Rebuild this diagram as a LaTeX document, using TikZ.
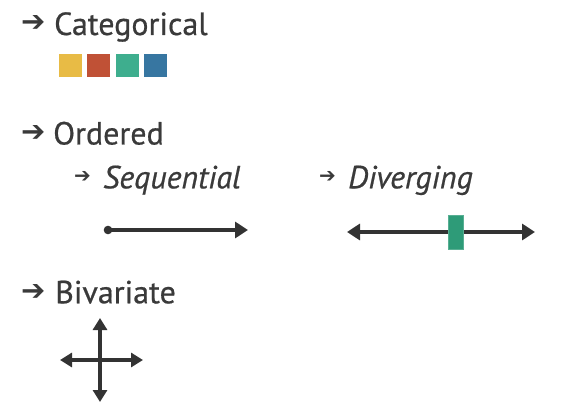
\documentclass[tikz,border=0pt]{standalone}
\usepackage{fontspec}
\setmainfont{PT Sans}[FakeBold=0.6]
\newfontfamily\symfont{DejaVu Sans Bold}
\usetikzlibrary{arrows.meta}
\definecolor{txt}{HTML}{3A3A3A}
\definecolor{ln}{HTML}{333333}
\definecolor{cyellow}{HTML}{E8BB45}
\definecolor{cred}{HTML}{C05136}
\definecolor{cteal}{HTML}{3EAE8E}
\definecolor{cblue}{HTML}{3776A1}
\definecolor{cgreen}{HTML}{2E9B78}
\begin{document}
\begin{tikzpicture}[x=1pt,y=-1pt,
  head/.style={anchor=base west,inner sep=0pt,text=txt,font=\fontsize{32}{36}\selectfont},
  subhead/.style={head,font=\fontsize{32}{36}\selectfont\itshape},
  bigarr/.style={anchor=west,inner sep=0pt,text=txt,font=\symfont\fontsize{29}{29}\selectfont},
  smallarr/.style={anchor=west,inner sep=0pt,text=txt,font=\symfont\fontsize{20}{20}\selectfont},
  swatch/.style={draw=white,line width=0.6pt,minimum size=24pt,inner sep=0pt},
  axis/.style={draw=ln,line width=3.4pt},
  tipR/.style={-{Triangle[length=13pt,width=16pt]}},
  tipLR/.style={{Triangle[length=13pt,width=16pt]}-{Triangle[length=13pt,width=16pt]}},
  tipS/.style={{Triangle[length=12pt,width=14pt]}-{Triangle[length=12pt,width=14pt]}}
]
\useasboundingbox (0,0) rectangle (562,417);
% headings
\node[bigarr] (a1) at (21,24) {➔};
\node[head] (cat) at (54,35) {Categorical};
\node[bigarr] (a2) at (21,133) {➔};
\node[head] (ord) at (53,144.5) {Ordered};
\node[bigarr] (a3) at (21,292.5) {➔};
\node[head] (biv) at (55,303.3) {Bivariate};
\node[smallarr] (a4) at (74,176.5) {➔};
\node[subhead] (seq) at (103,188.3) {Sequential};
\node[smallarr] (a5) at (319,176.5) {➔};
\node[subhead] (div) at (348,188.3) {Diverging};
% swatches
\node[swatch,fill=cyellow] (s1) at (70,65) {};
\node[swatch,fill=cred] (s2) at (98,65) {};
\node[swatch,fill=cteal] (s3) at (127,65) {};
\node[swatch,fill=cblue] (s4) at (155,65) {};
% sequential
\coordinate (q0) at (108,230);
\coordinate (q1) at (248,230);
\fill[ln] (q0) circle (4.3);
\draw[axis,tipR] (q0) -- (q1);
% diverging
\coordinate (d0) at (347,232);
\coordinate (d1) at (535,232);
\draw[axis,tipLR] (d0) -- (d1);
\node[fill=cgreen,draw=cgreen!80!white,line width=0.5pt,minimum width=15pt,minimum height=34pt,inner sep=0pt] (mid) at (455.5,232) {};
% bivariate
\coordinate (h0) at (60,360);
\coordinate (h1) at (143,360);
\coordinate (v0) at (100,318);
\coordinate (v1) at (100,402);
\draw[axis,tipS] (h0) -- (h1);
\draw[axis,tipS] (v0) -- (v1);
\end{tikzpicture}
\end{document}
